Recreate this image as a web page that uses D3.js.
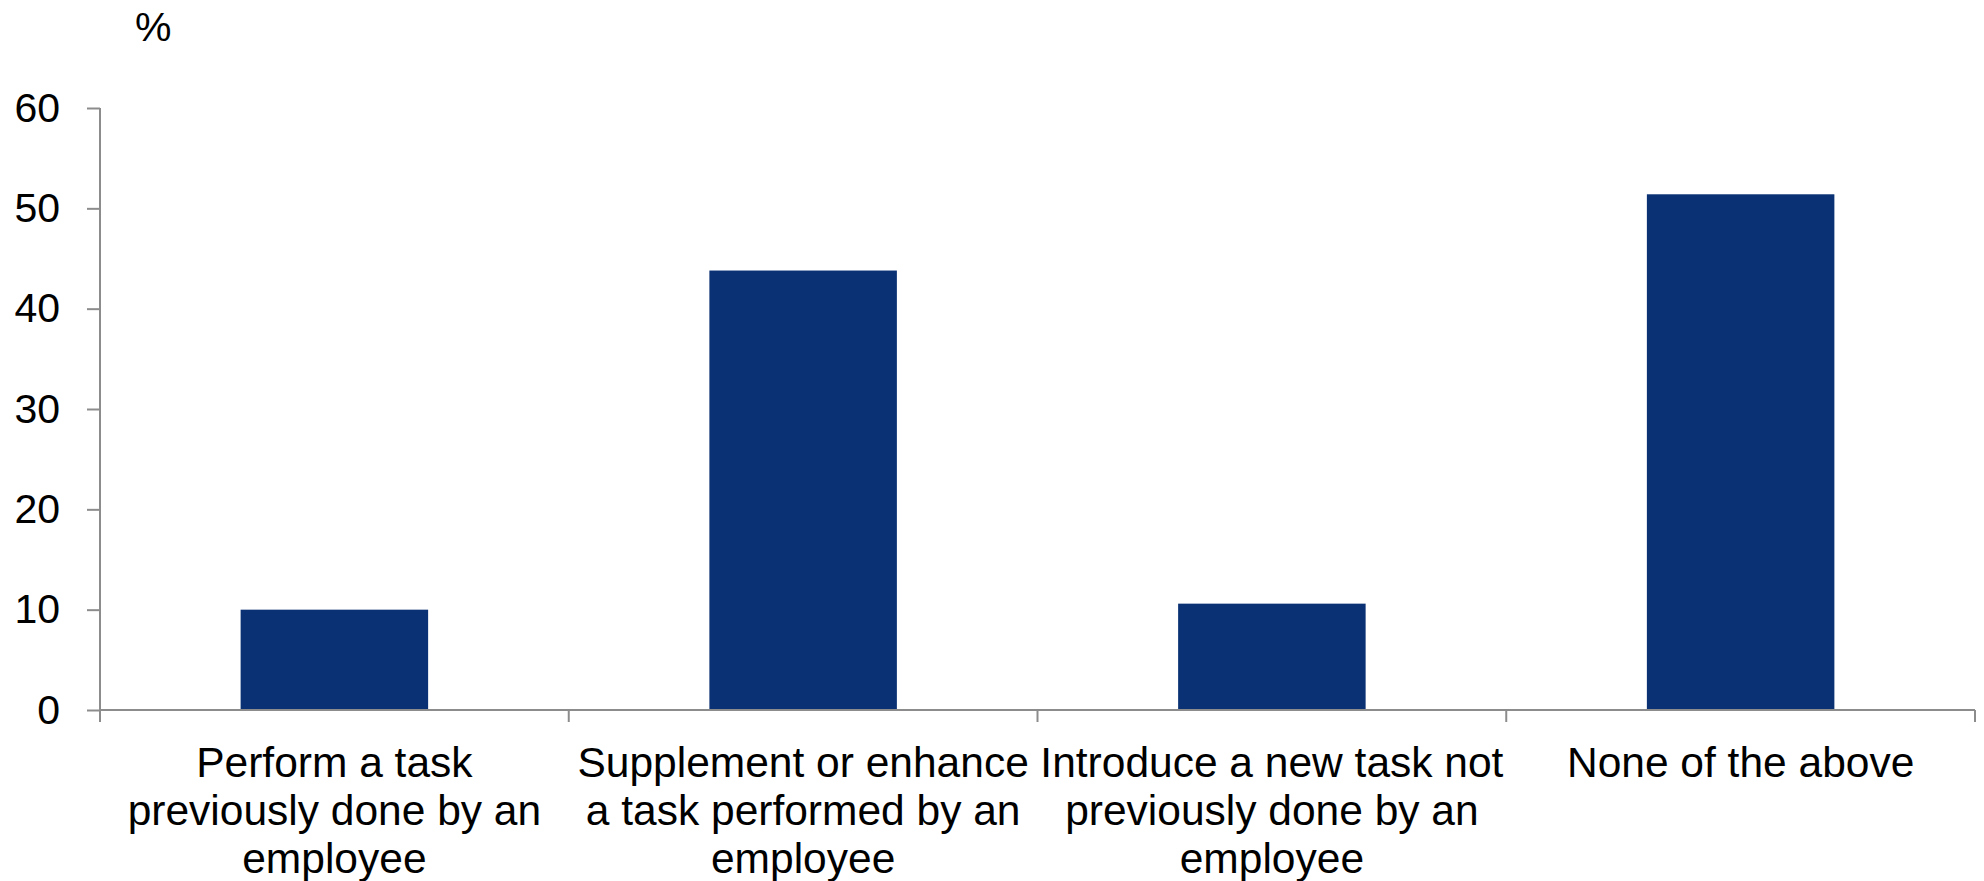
<!DOCTYPE html>
<html>
<head>
<meta charset="utf-8">
<script src="https://cdnjs.cloudflare.com/ajax/libs/d3/7.8.5/d3.min.js"></script>
<style>
  body { margin: 0; background: #ffffff; }
  svg { display: block; font-family: "Liberation Sans", Arial, sans-serif; }
</style>
</head>
<body>
<div id="chart"></div>
<script>
// chart data
const CATEGORIES = ["perform", "supplement", "introduce", "none"];
const LABEL_LINES = [
  ["Perform a task", "previously done by an", "employee"],
  ["Supplement or enhance", "a task performed by an", "employee"],
  ["Introduce a new task not", "previously done by an", "employee"],
  ["None of the above"]
];
const VALUES = [10.0, 43.8, 10.6, 51.4];
const Y_TICKS = [0, 10, 20, 30, 40, 50, 60];
const UNIT_LABEL = "%";

// frame
const FRAME_WIDTH = 1984;
const FRAME_HEIGHT = 881;
const MARGINS = {left: 100, right: 9, top: 108, bottom: 171};
const VIS_WIDTH = FRAME_WIDTH - MARGINS.left - MARGINS.right;
const VIS_HEIGHT = FRAME_HEIGHT - MARGINS.top - MARGINS.bottom;

const AXIS_COLOR = "#8c8c8c";
const BAR_COLOR = "#0a3174";

const SVG = d3.select("#chart")
              .append("svg")
                .attr("width", FRAME_WIDTH)
                .attr("height", FRAME_HEIGHT);

// scales
const X_SCALE = d3.scaleBand()
                  .domain(CATEGORIES)
                  .range([0, VIS_WIDTH])
                  .paddingInner(0.6)
                  .paddingOuter(0.3);

// band edges (category boundaries) for the tick marks
const X_EDGES = d3.scaleBand()
                  .domain(CATEGORIES)
                  .range([0, VIS_WIDTH])
                  .padding(0);

const Y_SCALE = d3.scaleLinear()
                  .domain([0, 60])
                  .range([VIS_HEIGHT, 0]);

const PLOT = SVG.append("g")
                .attr("transform", "translate(" + MARGINS.left + "," + MARGINS.top + ")");

// bars
PLOT.selectAll(".bar")
    .data(VALUES)
    .enter()
    .append("rect")
      .attr("class", "bar")
      .attr("x", (d, i) => X_SCALE(CATEGORIES[i]))
      .attr("y", (d) => Y_SCALE(d))
      .attr("width", X_SCALE.bandwidth())
      .attr("height", (d) => VIS_HEIGHT - Y_SCALE(d))
      .attr("fill", BAR_COLOR);

// y axis
const Y_AXIS = PLOT.append("g")
                   .call(d3.axisLeft(Y_SCALE)
                           .tickValues(Y_TICKS)
                           .tickSize(13)
                           .tickPadding(27));
Y_AXIS.selectAll("path, line")
      .attr("stroke", AXIS_COLOR)
      .attr("stroke-width", 2);
Y_AXIS.select(".domain").attr("d", "M0," + Y_SCALE(60) + "V" + Y_SCALE(0));
Y_AXIS.selectAll("text")
      .attr("font-size", "41px")
      .attr("fill", "#000000")
      .attr("font-family", "Liberation Sans, Arial, sans-serif");

// x axis line and category boundary ticks
const X_AXIS = PLOT.append("g")
                   .attr("transform", "translate(0," + VIS_HEIGHT + ")");
X_AXIS.append("line")
      .attr("x1", 0)
      .attr("x2", VIS_WIDTH)
      .attr("stroke", AXIS_COLOR)
      .attr("stroke-width", 2);
const EDGES = CATEGORIES.map((c) => X_EDGES(c)).concat([VIS_WIDTH]);
X_AXIS.selectAll(".edge")
      .data(EDGES)
      .enter()
      .append("line")
        .attr("class", "edge")
        .attr("x1", (d) => d)
        .attr("x2", (d) => d)
        .attr("y1", 0)
        .attr("y2", 12)
        .attr("stroke", AXIS_COLOR)
        .attr("stroke-width", 2);

// category labels, wrapped over several lines
const LABELS = X_AXIS.selectAll(".cat")
                     .data(LABEL_LINES)
                     .enter()
                     .append("text")
                       .attr("class", "cat")
                       .attr("text-anchor", "middle")
                       .attr("font-size", "42.5px")
                       .attr("fill", "#000000")
                       .attr("transform", (d, i) => "translate(" + (X_SCALE(CATEGORIES[i]) + X_SCALE.bandwidth() / 2) + ",67)");
LABELS.selectAll("tspan")
      .data((d) => d)
      .enter()
      .append("tspan")
        .attr("x", 0)
        .attr("y", (d, i) => i * 48)
        .text((d) => d);

// unit label above the axis
SVG.append("text")
   .attr("x", 135)
   .attr("y", 41)
   .attr("font-size", "41px")
   .attr("fill", "#000000")
   .text(UNIT_LABEL);
</script>
</body>
</html>
